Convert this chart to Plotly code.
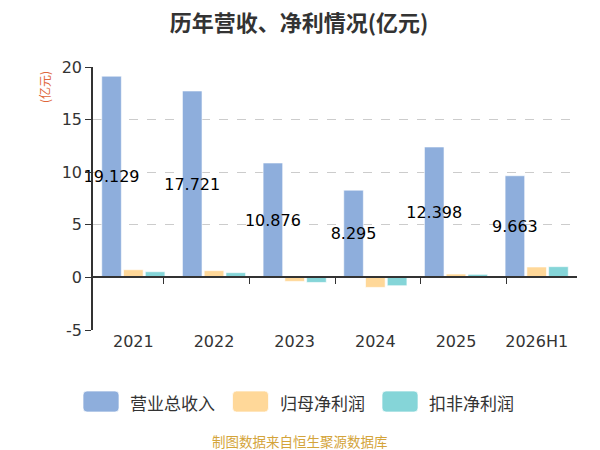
import plotly.graph_objects as go

# Data
years = ["2021", "2022", "2023", "2024", "2025", "2026H1"]
revenue = [19.129, 17.721, 10.876, 8.295, 12.398, 9.663]
net_profit = [0.73, 0.64, -0.38, -0.95, 0.32, 0.99]
net_profit_ex = [0.54, 0.45, -0.48, -0.79, 0.29, 1.02]
y_ticks = [-5, 0, 5, 10, 15, 20]

series_names = ["营业总收入", "归母净利润", "扣非净利润"]
colors = ["#8eaedc", "#ffd899", "#85d5d8"]

font_cn = "Noto Sans CJK SC, sans-serif"
font_num = "DejaVu Sans, sans-serif"
edge = dict(color="rgba(255,255,255,0.6)", width=1)

# plot area in figure pixels
L, T, R, B = 85, 59, 31, 128
W, H = 600 - L - R, 450 - T - B


def px(x):
    return (x - L) / W


def py(y):
    return (450 - B - y) / H


def rounded_rect(x0, y0, x1, y1, r=4):
    rx, ry = r / W, r / H
    a, b, c, d = px(x0), py(y1), px(x1), py(y0)
    return (f"M {a+rx},{b} L {c-rx},{b} Q {c},{b} {c},{b+ry} L {c},{d-ry} "
            f"Q {c},{d} {c-rx},{d} L {a+rx},{d} Q {a},{d} {a},{d-ry} "
            f"L {a},{b+ry} Q {a},{b} {a+rx},{b} Z")


fig = go.Figure(data=[
    go.Bar(name=series_names[0], x=years, y=revenue, marker_color=colors[0],
           marker_line=edge, text=[f"{v:.3f}" for v in revenue],
           textposition="inside", insidetextanchor="middle", textangle=0,
           constraintext="none", cliponaxis=False,
           textfont=dict(color="#000", size=16, family=font_num)),
    go.Bar(name=series_names[1], x=years, y=net_profit, marker_color=colors[1],
           marker_line=edge),
    go.Bar(name=series_names[2], x=years, y=net_profit_ex, marker_color=colors[2],
           marker_line=edge),
    # invisible trace to carry the axis drawn at zero
    go.Scatter(x=years, y=[0] * len(years), xaxis="x2", mode="markers",
               marker=dict(opacity=0), showlegend=False, hoverinfo="skip"),
])

# hand-drawn legend with wide rounded swatches
shapes = []
annotations = []
for i, (name, col) in enumerate(zip(series_names, colors)):
    x0 = 75 + i * 149.5
    shapes.append(dict(type="path", xref="paper", yref="paper",
                       path=rounded_rect(x0, 383, x0 + 36, 404), fillcolor=col,
                       line=dict(color="rgba(255,255,255,0.7)", width=1)))
    annotations.append(dict(text=name, xref="paper", yref="paper", x=px(x0 + 45),
                            y=py(394), xanchor="left", yanchor="middle",
                            showarrow=False, font=dict(size=17, color="#333")))

annotations += [
    dict(text="(亿元)", xref="paper", yref="paper", x=px(36), y=py(79),
         xanchor="center", yanchor="middle",
         showarrow=False, textangle=-90, font=dict(size=12, color="#e0663a")),
    dict(text="制图数据来自恒生聚源数据库", xref="paper", yref="paper", x=px(292),
         y=py(433), showarrow=False, xanchor="center", yanchor="middle",
         font=dict(size=13.5, color="#d4a43a")),
]

fig.update_layout(
    width=600, height=450,
    margin=dict(l=L, r=R, t=T, b=B),
    paper_bgcolor="white", plot_bgcolor="white",
    font=dict(family=font_cn, color="#333", size=14),
    barmode="group", bargap=0.19, bargroupgap=0.1,
    showlegend=False,
    title=dict(text="<b>历年营收、净利情况(亿元)</b>", x=px(291), xref="paper",
               xanchor="center", y=1 - 15 / 450, yref="container", yanchor="middle",
               font=dict(size=22, color="#333")),
    xaxis=dict(showline=False, ticks="", showgrid=False, zeroline=False,
               tickfont=dict(size=16, family=font_num, color="#333")),
    xaxis2=dict(overlaying="x", anchor="free", position=0.2, showline=True,
                linecolor="#333", linewidth=1.5, ticks="outside", ticklen=6,
                tickcolor="#333", tickson="boundaries", showticklabels=False,
                showgrid=False, zeroline=False),
    yaxis=dict(range=[-5, 20], tickvals=y_ticks, ticktext=[str(v) for v in y_ticks],
               showline=True, linecolor="#333",
               linewidth=1.5, ticks="outside", ticklen=6, tickcolor="#333",
               showgrid=True, gridcolor="#cccccc", griddash="dash", zeroline=False,
               tickfont=dict(size=16, family=font_num, color="#333")),
    shapes=shapes,
    annotations=annotations,
)

fig.write_html("out.html")
